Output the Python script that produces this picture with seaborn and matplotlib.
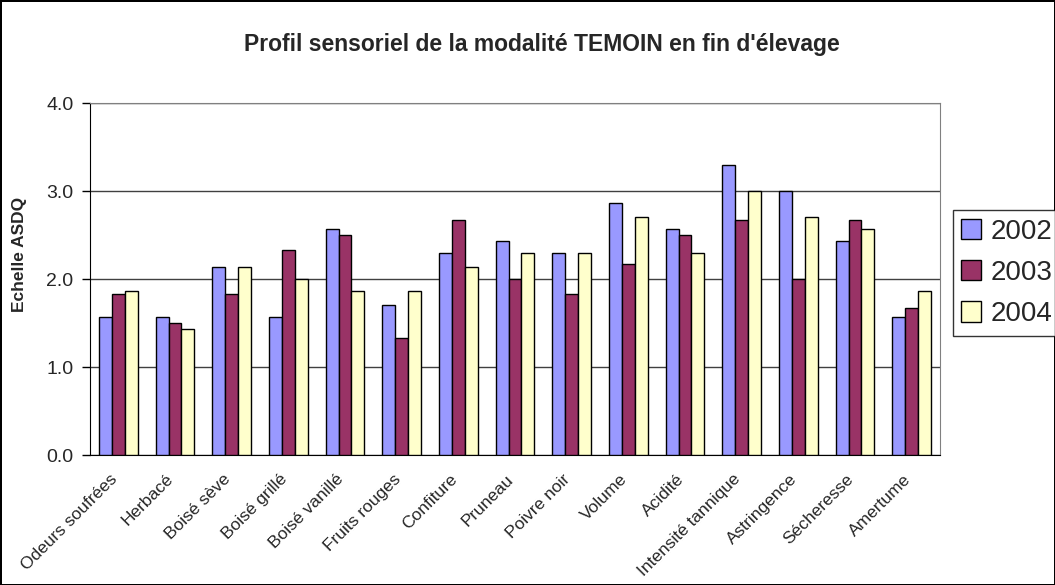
import numpy as np
import pandas as pd
import matplotlib
matplotlib.use("Agg")
import matplotlib.pyplot as plt
import matplotlib.transforms as mtransforms
import seaborn as sns

categories = ["Odeurs soufrées", "Herbacé", "Boisé sève", "Boisé grillé", "Boisé vanillé",
              "Fruits rouges", "Confiture", "Pruneau", "Poivre noir", "Volume", "Acidité",
              "Intensité tannique", "Astringence", "Sécheresse", "Amertume"]
years = ["2002", "2003", "2004"]
v2002 = [1.57, 1.57, 2.14, 1.57, 2.57, 1.71, 2.29, 2.43, 2.29, 2.86, 2.57, 3.29, 3.00, 2.43, 1.57]
v2003 = [1.83, 1.50, 1.83, 2.33, 2.50, 1.33, 2.67, 2.00, 1.83, 2.17, 2.50, 2.67, 2.00, 2.67, 1.67]
v2004 = [1.86, 1.43, 2.14, 2.00, 1.86, 1.86, 2.14, 2.29, 2.29, 2.71, 2.29, 3.00, 2.71, 2.57, 1.86]
colors = ["#9999FF", "#993366", "#FFFFCC"]

df = pd.DataFrame({"Attribut": categories * 3,
                   "Année": np.repeat(years, len(categories)),
                   "Note": v2002 + v2003 + v2004})

sns.set_style("white")
plt.rcParams['font.family'] = ['Liberation Sans', 'DejaVu Sans']

fig = plt.figure(figsize=(10.55, 5.85), dpi=100)
fig.patch.set_edgecolor("black")
fig.patch.set_linewidth(2)
ax = fig.add_axes([90 / 1055, 1 - 455 / 585, 850 / 1055, 352 / 585])

sns.barplot(data=df, x="Attribut", y="Note", hue="Année", palette=colors, saturation=1,
            width=0.68, edgecolor="black", linewidth=1, ax=ax, zorder=3)

ax.set_ylim(0, 4)
ax.set_xlim(-0.5, len(categories) - 0.5)
ax.set_yticks([0, 1, 2, 3, 4])
ax.set_yticklabels(["0.0", "1.0", "2.0", "3.0", "4.0"], fontsize=14)
ax.yaxis.grid(True, color="#404040", linewidth=1, zorder=0)
ax.set_axisbelow(True)

ax.set_xticks(range(len(categories)))
ax.set_xticklabels(categories, rotation=45, ha="right", rotation_mode="anchor", fontsize=12.5)
ax.set_xticks(np.arange(-0.5, len(categories), 1), minor=True)
ax.tick_params(axis="x", which="major", length=0, pad=9)
ax.tick_params(axis="x", which="minor", length=5, width=1, color="black", direction="out")
ax.tick_params(axis="y", length=6, width=1, color="black", direction="out", left=True, pad=6)

# nudge rotated labels a bit left/down like the original
offset = mtransforms.ScaledTranslation(-0.09, -0.04, fig.dpi_scale_trans)
for lab in ax.get_xticklabels():
    lab.set_transform(lab.get_transform() + offset)

ax.set_xlabel("")
ax.set_ylabel("Echelle ASDQ", fontsize=12.5, fontweight="bold")
ax.yaxis.set_label_coords(-0.074, 0.57)
for s in ["left", "bottom"]:
    ax.spines[s].set_color("black")
for s in ["top", "right"]:
    ax.spines[s].set_color("#808080")

ax.get_legend().remove()
handles = [plt.Rectangle((0, 0), 1, 1, facecolor=c, edgecolor="black") for c in colors]
fig.legend(handles, years, loc="center left", bbox_to_anchor=(953 / 1055, 1 - 273 / 585),
           fontsize=20, frameon=True, fancybox=False, edgecolor="black",
           handlelength=0.7, handleheight=0.75, handletextpad=0.35, labelspacing=0.55,
           borderpad=0.3, borderaxespad=0)

fig.suptitle("Profil sensoriel de la modalité TEMOIN en fin d'élevage",
             x=542 / 1055, y=1 - 45 / 585, fontsize=16.5, fontweight="bold", va="center")

fig.savefig("out.png", dpi=100)
